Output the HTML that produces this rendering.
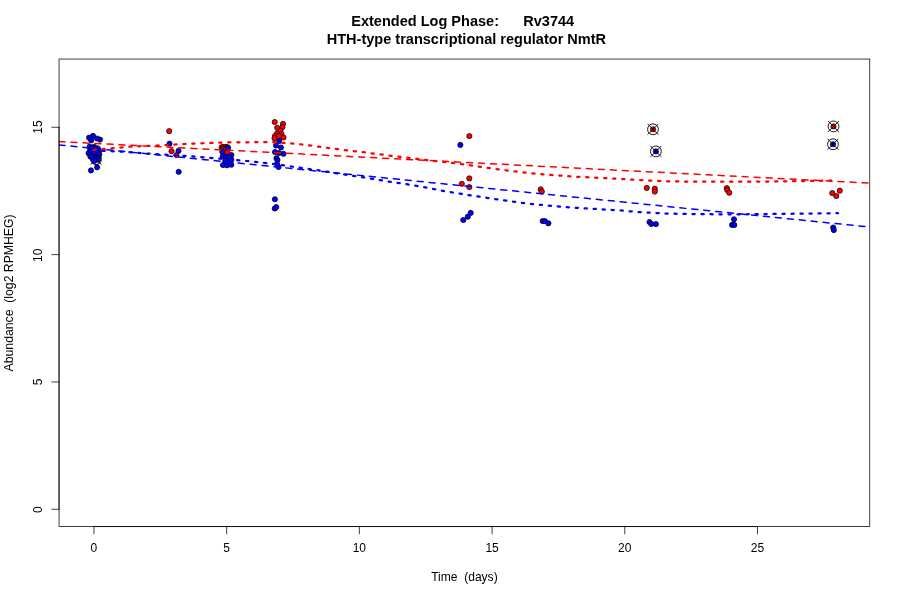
<!DOCTYPE html>
<html><head><meta charset="utf-8"><title>Rv3744</title>
<style>html,body{margin:0;padding:0;background:#fff}svg{display:block}text{font-family:"Liberation Sans",sans-serif;fill:#000}</style></head>
<body>
<svg width="900" height="600" viewBox="0 0 900 600">
<rect width="900" height="600" fill="#fff"/>
<defs><clipPath id="c"><rect x="59.04" y="59.04" width="810.72" height="467.52"/></clipPath></defs>
<g stroke="#000" stroke-width="0.75">
<g fill="#f00"><circle cx="169.20" cy="131.20" r="2.6"/><circle cx="171.50" cy="151.20" r="2.6"/><circle cx="176.50" cy="155.00" r="2.6"/><circle cx="221.60" cy="147.30" r="2.6"/><circle cx="223.10" cy="146.90" r="2.6"/><circle cx="224.60" cy="147.90" r="2.6"/><circle cx="226.10" cy="146.90" r="2.6"/><circle cx="227.60" cy="147.30" r="2.6"/><circle cx="223.60" cy="148.90" r="2.6"/><circle cx="225.80" cy="149.10" r="2.6"/><circle cx="227.25" cy="152.50" r="2.6"/><circle cx="274.70" cy="122.00" r="2.6"/><circle cx="283.00" cy="123.80" r="2.6"/><circle cx="282.50" cy="127.00" r="2.6"/><circle cx="277.20" cy="127.80" r="2.6"/><circle cx="280.50" cy="130.50" r="2.6"/><circle cx="281.50" cy="134.00" r="2.6"/><circle cx="277.00" cy="133.50" r="2.6"/><circle cx="275.00" cy="136.00" r="2.6"/><circle cx="274.50" cy="138.20" r="2.6"/><circle cx="283.50" cy="137.50" r="2.6"/><circle cx="279.00" cy="136.00" r="2.6"/><circle cx="469.35" cy="136.10" r="2.6"/><circle cx="469.30" cy="178.40" r="2.6"/><circle cx="461.80" cy="183.80" r="2.6"/><circle cx="469.30" cy="187.10" r="2.6"/><circle cx="540.70" cy="189.30" r="2.6"/><circle cx="541.80" cy="191.60" r="2.6"/><circle cx="646.80" cy="187.90" r="2.6"/><circle cx="654.80" cy="188.70" r="2.6"/><circle cx="654.80" cy="191.60" r="2.6"/><circle cx="726.80" cy="188.10" r="2.6"/><circle cx="727.30" cy="190.00" r="2.6"/><circle cx="729.20" cy="192.70" r="2.6"/><circle cx="832.30" cy="193.10" r="2.6"/><circle cx="836.30" cy="196.00" r="2.6"/><circle cx="839.80" cy="190.70" r="2.6"/><circle cx="653.00" cy="129.30" r="2.6"/><circle cx="833.50" cy="126.40" r="2.6"/></g>
<g stroke-width="0.9"><circle cx="96.00" cy="159.20" r="5.40" fill="none"/><path d="M90.60 153.80L101.40 164.60M90.60 164.60L101.40 153.80" fill="none"/><circle cx="653.00" cy="129.30" r="5.40" fill="none"/><path d="M647.60 123.90L658.40 134.70M647.60 134.70L658.40 123.90" fill="none"/><circle cx="833.50" cy="126.40" r="5.40" fill="none"/><path d="M828.10 121.00L838.90 131.80M828.10 131.80L838.90 121.00" fill="none"/></g>
<g fill="#00f"><circle cx="93.00" cy="135.90" r="2.6"/><circle cx="89.10" cy="137.70" r="2.6"/><circle cx="91.20" cy="140.30" r="2.6"/><circle cx="100.00" cy="139.60" r="2.6"/><circle cx="97.10" cy="138.50" r="2.6"/><circle cx="89.70" cy="146.50" r="2.6"/><circle cx="90.10" cy="149.50" r="2.6"/><circle cx="88.60" cy="153.20" r="2.6"/><circle cx="94.10" cy="146.90" r="2.6"/><circle cx="97.80" cy="148.40" r="2.6"/><circle cx="98.90" cy="151.30" r="2.6"/><circle cx="93.00" cy="151.30" r="2.6"/><circle cx="91.60" cy="155.70" r="2.6"/><circle cx="96.00" cy="155.00" r="2.6"/><circle cx="99.30" cy="154.30" r="2.6"/><circle cx="92.00" cy="148.00" r="2.6"/><circle cx="95.80" cy="149.60" r="2.6"/><circle cx="91.00" cy="151.80" r="2.6"/><circle cx="96.80" cy="152.60" r="2.6"/><circle cx="93.40" cy="153.80" r="2.6"/><circle cx="95.00" cy="156.80" r="2.6"/><circle cx="98.40" cy="157.00" r="2.6"/><circle cx="90.40" cy="156.50" r="2.6"/><circle cx="96.70" cy="158.00" r="2.6"/><circle cx="92.30" cy="158.00" r="2.6"/><circle cx="97.90" cy="159.60" r="2.6"/><circle cx="94.30" cy="160.90" r="2.6"/><circle cx="97.10" cy="167.30" r="2.6"/><circle cx="91.00" cy="170.40" r="2.6"/><circle cx="169.50" cy="143.70" r="2.6"/><circle cx="178.50" cy="150.80" r="2.6"/><circle cx="178.70" cy="171.80" r="2.6"/><circle cx="228.00" cy="148.00" r="2.6"/><circle cx="222.30" cy="151.70" r="2.6"/><circle cx="231.30" cy="155.00" r="2.6"/><circle cx="222.70" cy="156.30" r="2.6"/><circle cx="226.00" cy="157.00" r="2.6"/><circle cx="228.70" cy="160.30" r="2.6"/><circle cx="231.30" cy="159.70" r="2.6"/><circle cx="223.00" cy="165.00" r="2.6"/><circle cx="227.00" cy="165.30" r="2.6"/><circle cx="231.30" cy="164.70" r="2.6"/><circle cx="225.30" cy="161.00" r="2.6"/><circle cx="279.20" cy="141.00" r="2.6"/><circle cx="276.00" cy="145.50" r="2.6"/><circle cx="281.00" cy="147.50" r="2.6"/><circle cx="275.00" cy="152.00" r="2.6"/><circle cx="283.50" cy="153.80" r="2.6"/><circle cx="279.00" cy="153.00" r="2.6"/><circle cx="276.50" cy="158.20" r="2.6"/><circle cx="277.50" cy="160.00" r="2.6"/><circle cx="278.50" cy="167.00" r="2.6"/><circle cx="277.00" cy="164.00" r="2.6"/><circle cx="274.90" cy="199.25" r="2.6"/><circle cx="274.75" cy="208.50" r="2.6"/><circle cx="276.25" cy="207.00" r="2.6"/><circle cx="460.35" cy="144.90" r="2.6"/><circle cx="470.70" cy="212.90" r="2.6"/><circle cx="467.80" cy="216.70" r="2.6"/><circle cx="463.30" cy="220.00" r="2.6"/><circle cx="542.70" cy="221.10" r="2.6"/><circle cx="544.90" cy="221.10" r="2.6"/><circle cx="548.40" cy="223.30" r="2.6"/><circle cx="649.50" cy="222.00" r="2.6"/><circle cx="651.30" cy="223.90" r="2.6"/><circle cx="655.90" cy="224.10" r="2.6"/><circle cx="734.00" cy="219.30" r="2.6"/><circle cx="732.10" cy="224.90" r="2.6"/><circle cx="734.30" cy="224.90" r="2.6"/><circle cx="833.20" cy="227.50" r="2.6"/><circle cx="833.80" cy="230.10" r="2.6"/><circle cx="655.90" cy="151.40" r="2.6"/><circle cx="833.00" cy="144.25" r="2.6"/></g>
<g stroke-width="0.9"><circle cx="655.90" cy="151.40" r="5.40" fill="none"/><path d="M650.50 146.00L661.30 156.80M650.50 156.80L661.30 146.00" fill="none"/><circle cx="833.00" cy="144.25" r="5.40" fill="none"/><path d="M827.60 138.85L838.40 149.65M827.60 149.65L838.40 138.85" fill="none"/><path d="M97.6 163.8L100.9 160.6" fill="none"/></g>
</g>
<g clip-path="url(#c)" fill="none" stroke-linecap="round" stroke-linejoin="round">
<path d="M59.04 144.90L869.76 227.00" stroke="#00f" stroke-width="1.5" stroke-dasharray="6 6"/>
<path d="M59.04 141.60L869.76 183.10" stroke="#f00" stroke-width="1.5" stroke-dasharray="6 6"/>
<path d="M93.50 150.50L123.30 151.70L156.70 154.20L190.00 156.20L236.70 160.00L274.40 164.00L296.70 167.30L318.90 170.40L341.00 174.00L363.30 177.30L385.60 181.10L407.80 184.40L430.00 188.20L442.00 190.70L464.40 194.40L486.70 197.80L508.90 201.10L531.10 204.00L553.30 206.00L575.60 207.80L597.80 209.10L620.00 210.40L636.70 211.90L663.30 213.50L690.00 214.00L716.70 214.30L743.30 214.30L770.00 214.00L796.70 213.70L838.00 213.20" stroke="#00f" stroke-width="2.25" stroke-dasharray="2.25 6.75"/>
<path d="M93.50 150.00L95.00 149.70L130.00 146.70L156.70 145.50L190.00 143.70L230.00 142.30L274.40 142.20L296.70 143.80L318.90 146.70L341.00 149.60L363.30 152.20L385.60 155.10L407.80 157.80L430.00 160.40L464.40 164.40L486.70 167.80L508.90 170.70L531.10 173.30L553.30 175.10L575.60 176.70L597.80 177.80L620.00 178.90L636.70 179.90L663.30 181.20L690.00 181.70L716.70 181.70L743.30 181.70L770.00 181.50L796.70 181.20L823.30 180.70L838.00 180.40" stroke="#f00" stroke-width="2.25" stroke-dasharray="2.25 6.75"/>
</g>
<g stroke="#000" stroke-width="0.75" fill="none" stroke-linecap="round">
<rect x="59.04" y="59.04" width="810.72" height="467.52"/>
<path d="M93.95 526.56L757.50 526.56M93.95 526.56L93.95 533.76M226.66 526.56L226.66 533.76M359.37 526.56L359.37 533.76M492.08 526.56L492.08 533.76M624.79 526.56L624.79 533.76M757.50 526.56L757.50 533.76M59.04 509.25L59.04 127.29M59.04 509.25L51.84 509.25M59.04 381.93L51.84 381.93M59.04 254.61L51.84 254.61M59.04 127.29L51.84 127.29"/>
</g>
<g font-size="12px" text-anchor="middle">
<text x="93.95" y="552">0</text><text x="226.66" y="552">5</text><text x="359.37" y="552">10</text><text x="492.08" y="552">15</text><text x="624.79" y="552">20</text><text x="757.50" y="552">25</text>
<text transform="translate(42 509.65) rotate(-90)">0</text><text transform="translate(42 381.93) rotate(-90)">5</text><text transform="translate(42 255.31) rotate(-90)">10</text><text transform="translate(42 127.09) rotate(-90)">15</text>
<text transform="translate(464.4 580.7) scale(1.006 1)" xml:space="preserve">Time  (days)</text>
<text transform="translate(13 292.9) rotate(-90) scale(1.02 1)" xml:space="preserve">Abundance  (log2 RPMHEG)</text>
</g>
<g font-size="14.4px" font-weight="bold" text-anchor="middle">
<text transform="translate(462.7 26) scale(1.01 1.08)" xml:space="preserve">Extended Log Phase:      Rv3744</text>
<text transform="translate(466.4 44) scale(1.01 1.08)" xml:space="preserve">HTH-type transcriptional regulator NmtR</text>
</g>
</svg>
</body></html>
